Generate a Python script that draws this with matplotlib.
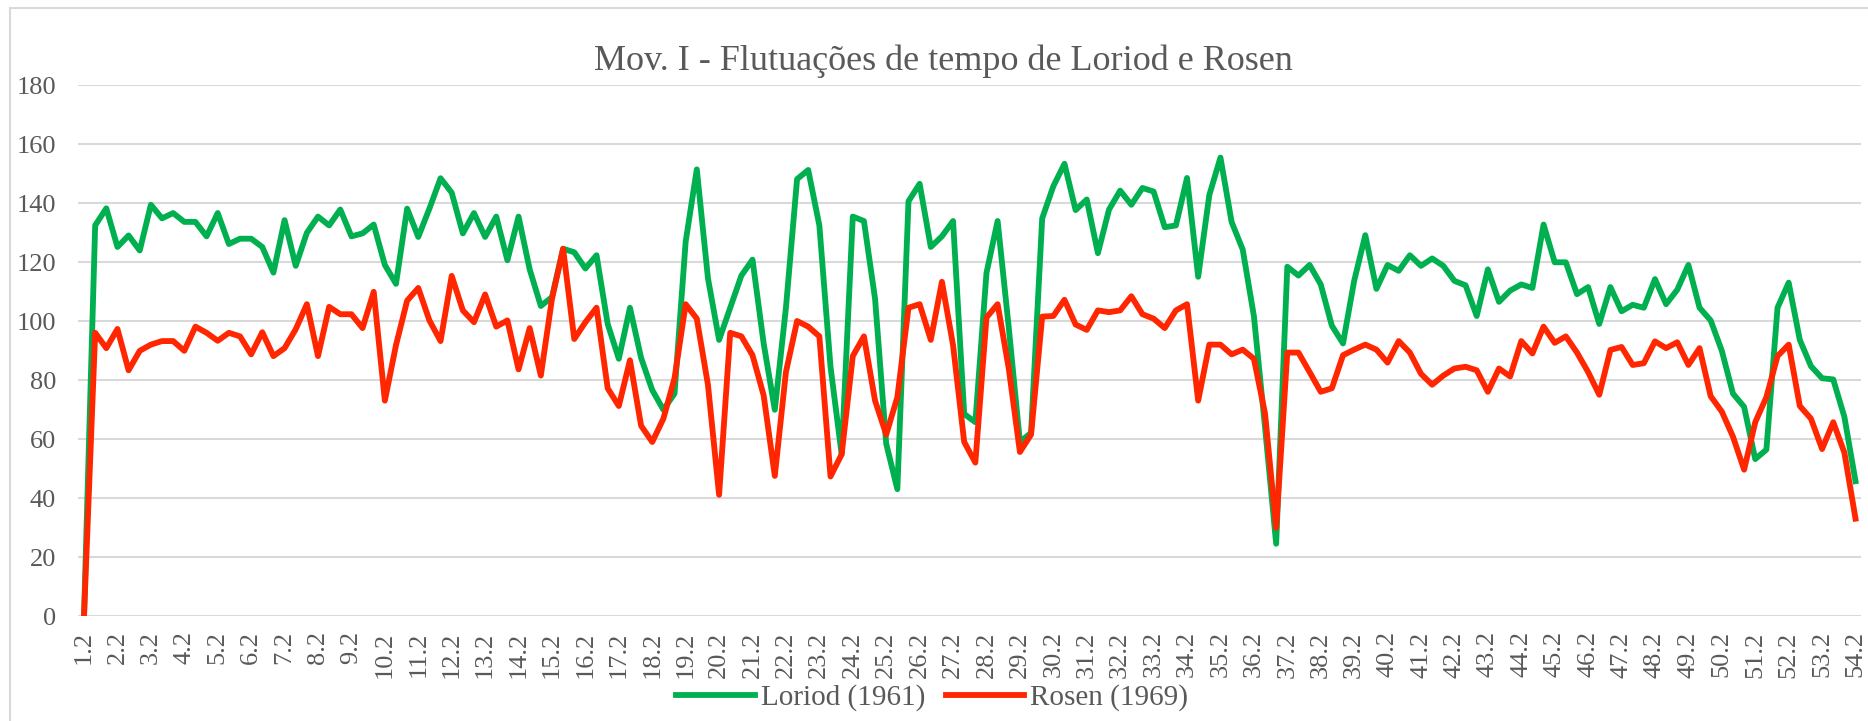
import matplotlib
matplotlib.use('Agg')
import matplotlib.pyplot as plt
from matplotlib.patches import Rectangle

# Dados: andamento (bpm) por tempo do compasso
compassos = ['1.2', '1.3'] + [f'{m}.{b}' for m in range(2, 54) for b in (1, 2, 3)] + ['54.1', '54.2']

loriod = [0, 132.4, 138.2, 125.1, 129.0, 123.9, 139.4, 134.8, 136.6, 133.6,
          133.6, 128.7, 136.6, 126.1, 127.9, 127.9, 125.1, 116.4, 134.2, 118.7,
          129.9, 135.4, 132.4, 137.8, 128.7, 129.7, 132.7, 119.0, 112.6, 138.1,
          128.5, 138.1, 148.4, 143.5, 129.7, 136.6, 128.5, 135.4, 120.6, 135.4,
          117.5, 105.1, 108.1, 124.5, 123.3, 117.8, 122.3, 99.0, 87.2, 104.5,
          87.5, 76.6, 69.9, 75.4, 126.9, 151.4, 114.5, 93.6, 104.5, 115.4,
          120.8, 92.4, 69.9, 104.5, 148.1, 151.2, 132.4, 84.5, 54.8, 135.4,
          133.9, 107.5, 58.4, 43.0, 140.6, 146.5, 125.1, 128.7, 133.9, 68.5,
          65.7, 116.3, 133.9, 97.8, 59.0, 62.1, 134.8, 145.7, 153.3, 137.6,
          141.2, 123.0, 137.8, 144.2, 139.4, 145.1, 143.9, 131.8, 132.4, 148.5,
          115.0, 142.7, 155.4, 133.6, 124.2, 101.7, 64.0, 24.5, 118.4, 115.4,
          119.0, 112.4, 98.4, 92.4, 113.6, 129.1, 110.9, 119.0, 117.0, 122.3,
          118.7, 121.2, 118.7, 113.6, 112.1, 101.7, 117.5, 106.5, 110.3, 112.4,
          111.2, 132.7, 119.9, 119.9, 109.1, 111.5, 99.0, 111.5, 103.3, 105.5,
          104.5, 114.2, 105.7, 110.6, 119.0, 104.5, 100.2, 89.9, 75.4, 70.9,
          53.2, 56.4, 104.5, 113.0, 93.6, 84.7, 80.6, 80.2, 67.5, 45.7]

rosen = [0, 96.0, 90.8, 97.3, 83.3, 89.9, 92.0, 93.2, 93.2, 89.9,
         98.1, 96.0, 93.3, 96.0, 94.8, 88.7, 96.2, 88.1, 90.8, 97.2,
         105.7, 88.1, 104.8, 102.3, 102.3, 97.6, 109.9, 73.0, 91.8, 106.9,
         111.2, 100.2, 93.2, 115.3, 103.6, 99.6, 109.0, 98.1, 100.2, 83.6,
         97.6, 81.5, 107.5, 124.5, 93.9, 99.6, 104.5, 77.2, 71.2, 86.7,
         64.5, 59.0, 66.9, 80.6, 105.7, 100.8, 78.4, 41.1, 96.0, 94.8,
         88.4, 74.8, 47.5, 82.7, 100.0, 98.1, 94.8, 47.3, 54.8, 88.1,
         94.8, 73.0, 61.5, 74.2, 104.5, 105.7, 93.6, 113.3, 91.8, 59.0,
         52.0, 101.2, 105.7, 83.9, 55.6, 61.5, 101.5, 101.7, 107.2, 98.8,
         97.0, 103.6, 103.0, 103.6, 108.4, 102.3, 100.8, 97.6, 103.6, 105.7,
         73.0, 92.0, 92.0, 88.7, 90.3, 87.2, 68.7, 29.9, 89.3, 89.3,
         82.7, 76.0, 77.2, 88.4, 90.3, 92.0, 90.3, 85.9, 93.2, 89.3,
         82.1, 78.4, 81.5, 83.9, 84.5, 83.3, 76.0, 83.9, 81.2, 93.2,
         89.0, 98.1, 92.6, 94.8, 89.3, 82.7, 75.0, 90.2, 91.2, 85.1,
         85.7, 93.1, 90.8, 92.8, 85.1, 90.8, 74.5, 69.3, 60.8, 49.6,
         65.7, 74.2, 88.1, 92.0, 71.2, 66.9, 56.6, 65.7, 55.4, 33.0]

series = ['Loriod (1961)', 'Rosen (1969)']
cores = ['#00B050', '#FF2600']
cinza = '#595959'

plt.rcParams['font.family'] = ['Liberation Serif', 'DejaVu Serif']

fig = plt.figure(figsize=(18.68, 7.21), dpi=100)
ax = fig.add_axes([0.042, 0.1456, 0.9543, 0.7365])

# borda do gráfico
fig.patches.append(Rectangle((10 / 1868, -0.1), 1.2, 1.1 - 8 / 721, transform=fig.transFigure,
                             fill=False, edgecolor='#D9D9D9', linewidth=1.5))

x = list(range(len(compassos)))
ax.plot(x, loriod, color=cores[0], linewidth=4.2, label=series[0], solid_joinstyle='round')
ax.plot(x, rosen, color=cores[1], linewidth=4.2, label=series[1], solid_joinstyle='round')

ax.set_xlim(-0.5, len(compassos) - 0.5)
ax.set_ylim(0, 180)
ax.set_yticks(range(0, 181, 20))
ax.set_xticks(x[::3])
ax.set_xticklabels(compassos[::3], rotation=90)
ax.grid(axis='y', color='#D9D9D9', linewidth=1.5)
ax.set_axisbelow(True)
for s in ax.spines.values():
    s.set_visible(False)
ax.tick_params(axis='both', length=0, labelsize=19, labelcolor=cinza)
ax.tick_params(axis='y', pad=16)
ax.tick_params(axis='x', pad=11)

fig.text(0.505, 0.915, 'Mov. I - Flutuações de tempo de Loriod e Rosen',
         ha='center', va='center', fontsize=26, color=cinza)

leg = fig.legend(loc='center', bbox_to_anchor=(0.499, 0.032), ncol=2, frameon=False,
                 fontsize=21, handlelength=2.7, handletextpad=0.2, columnspacing=0.7)
for t in leg.get_texts():
    t.set_color(cinza)

fig.savefig('out.png', dpi=100)
